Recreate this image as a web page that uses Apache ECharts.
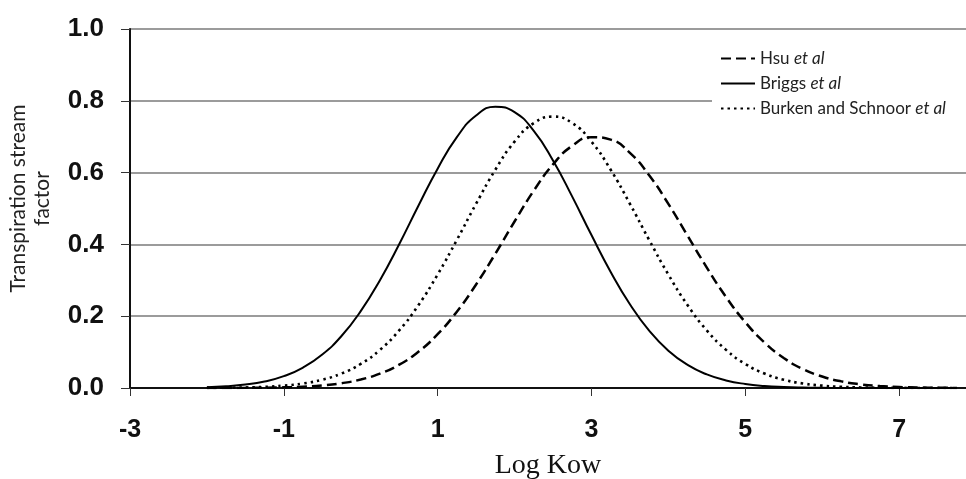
<!DOCTYPE html>
<html>
<head>
<meta charset="utf-8">
<script src="https://cdn.jsdelivr.net/npm/echarts@6/dist/echarts.min.js"></script>
<style>
html,body{margin:0;padding:0;background:#fff;}
#chart{width:966px;height:479px;}
</style>
</head>
<body>
<div id="chart"></div>
<script>
// Log Kow sample points
const logKow = [-2, -1.75, -1.5, -1.25, -1, -0.75, -0.5, -0.25, 0, 0.25, 0.5, 0.75, 1, 1.25, 1.5, 1.75, 2, 2.25, 2.5, 2.75, 3, 3.25, 3.5, 3.75, 4, 4.25, 4.5, 4.75, 5, 5.25, 5.5, 5.75, 6, 6.25, 6.5, 6.75, 7, 7.25, 7.5, 7.75];
// Transpiration stream factor readings
const hsu = [0.0001,0.0002,0.0004,0.0009,0.0018,0.0037,0.0071,0.0133,0.0236,0.0401,0.0650,0.1010,0.1499,0.2127,0.2884,0.3740,0.4638,0.5496,0.6228,0.6747,0.6988,0.6919,0.6550,0.5928,0.5128,0.4242,0.3354,0.2536,0.1833,0.1267,0.0837,0.0528,0.0319,0.0184,0.0102,0.0054,0.0027,0.0013,0.0006,0.0003];
const briggs = [0.0022,0.0047,0.0095,0.0182,0.0330,0.0569,0.0932,0.1448,0.2140,0.3004,0.4006,0.5076,0.6110,0.6988,0.7592,0.7837,0.7686,0.7162,0.6339,0.5331,0.4260,0.3234,0.2333,0.1598,0.1040,0.0643,0.0378,0.0211,0.0112,0.0056,0.0027,0.0012,0.0005,0.0002,0.0001,0,0,0,0,0];
const burken = [0.0003,0.0007,0.0015,0.0032,0.0066,0.0126,0.0231,0.0403,0.0670,0.1062,0.1604,0.2307,0.3161,0.4125,0.5131,0.6079,0.6862,0.7379,0.7560,0.7379,0.6862,0.6079,0.5131,0.4125,0.3161,0.2307,0.1604,0.1062,0.0670,0.0403,0.0231,0.0126,0.0066,0.0032,0.0015,0.0007,0.0003,0.0001,0.0001,0];

const seriesNames = ['Hsu', 'Briggs', 'Burken and Schnoor'];
const xTicks = [-3, -1, 1, 3, 5, 7];
const yTicks = [0, 0.2, 0.4, 0.6, 0.8, 1.0];

function pairs(ys){ return logKow.map((x,i)=>[x, ys[i]]); }

const chart = echarts.init(document.getElementById('chart'), null, {renderer:'canvas'});
chart.setOption({
  animation: false,
  backgroundColor: '#fff',
  grid: {left: 130, right: 0, top: 29, bottom: 91, containLabel: false, outerBoundsMode: 'none'},
  legend: {
    orient: 'vertical',
    left: 712, top: 46,
    padding: [4, 40, 6, 8],
    backgroundColor: '#fff',
    itemWidth: 34, itemHeight: 12, itemGap: 8,
    itemStyle: {opacity: 0},
    data: seriesNames,
    formatter: function(n){ return '{n|' + n + ' }{i|et al}'; },
    textStyle: {
      fontFamily: 'Lato', fontSize: 17, color: '#222',
      rich: {
        n: {fontFamily: 'Lato', fontSize: 17, color: '#222'},
        i: {fontFamily: 'Lato', fontSize: 17, color: '#222', fontStyle: 'italic'}
      }
    }
  },
  xAxis: {
    type: 'value', min: -3, max: 7.87, interval: 2,
    name: 'Log Kow', nameLocation: 'middle', nameGap: 64,
    nameTextStyle: {fontFamily: 'Liberation Serif', fontSize: 28, color: '#111'},
    axisLine: {onZero: false, lineStyle: {color: '#111', width: 2}},
    axisTick: {length: 8, lineStyle: {color: '#333', width: 1}},
    splitLine: {show: false},
    axisLabel: {
      margin: 30, fontFamily: 'Liberation Sans', fontWeight: 'bold', fontSize: 25, color: '#111',
      formatter: function(v){ return xTicks.indexOf(v) >= 0 ? String(v) : ''; }
    }
  },
  yAxis: {
    type: 'value', min: 0, max: 1, interval: 0.2,
    name: 'Transpiration stream\nfactor', nameLocation: 'middle', nameGap: 76, nameRotate: 90,
    nameTextStyle: {fontFamily: 'Lato', fontSize: 21, lineHeight: 24, color: '#222', align: 'center', padding: [0, 0, 0, 20]},
    axisLine: {show: true, onZero: false, lineStyle: {color: '#111', width: 2}},
    axisTick: {show: true, length: 9, lineStyle: {color: '#333', width: 1}},
    splitLine: {show: true, lineStyle: {color: '#7a7a7a', width: 1.5}},
    axisLabel: {
      margin: 26, fontFamily: 'Liberation Sans', fontWeight: 'bold', fontSize: 26, color: '#111',
      formatter: function(v){ return v.toFixed(1); }
    }
  },
  series: [
    {name: seriesNames[0], type: 'line', data: pairs(hsu), smooth: true, symbol: 'none',
     lineStyle: {color: '#000', width: 2.5, type: [10, 5]}, itemStyle: {color: '#000'}},
    {name: seriesNames[1], type: 'line', data: pairs(briggs), smooth: true, symbol: 'none',
     lineStyle: {color: '#000', width: 2, type: 'solid'}, itemStyle: {color: '#000'}},
    {name: seriesNames[2], type: 'line', data: pairs(burken), smooth: true, symbol: 'none',
     lineStyle: {color: '#000', width: 2.6, type: [2.5, 4]}, itemStyle: {color: '#000'}}
  ]
});
</script>
</body>
</html>
